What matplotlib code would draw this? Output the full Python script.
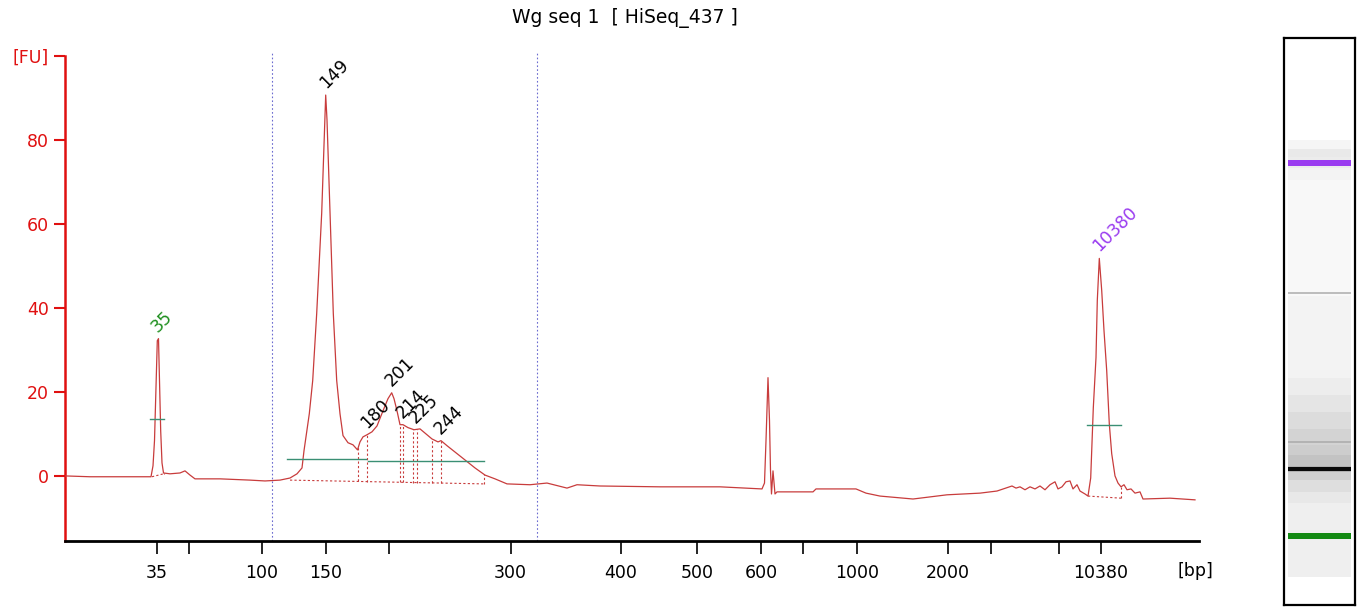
import numpy as np
import matplotlib
matplotlib.use("Agg")
import matplotlib.pyplot as plt

# electropherogram trace: migration time (s) vs fluorescence (FU)
TIME_S = [46.5, 49.0, 52.0, 54.0, 55.1, 55.3, 55.45, 55.6, 55.73, 55.85, 55.95, 56.07, 56.2, 56.35,
          57.0, 58.0, 58.5, 59.0, 59.5, 62.0, 65.0, 66.5, 68.0, 69.0, 69.7, 70.2, 70.4, 70.93, 71.27,
          71.67, 72.17, 72.45, 72.57, 72.7, 73.0, 73.33, 73.67, 74.0, 74.3, 74.8, 75.3, 75.75, 76.0,
          76.3, 76.7, 77.2, 77.7, 78.3, 78.8, 79.17, 79.4, 79.7, 80.0, 80.3, 80.8, 81.4, 82.0, 82.6,
          83.2, 83.8, 84.1, 84.7, 85.5, 86.5, 87.5, 88.5, 89.5, 90.7, 93.0, 94.7, 96.7, 97.7, 100.0,
          106.0, 112.0, 114.5,
          116.2, 116.45, 116.6, 116.8, 116.95, 117.05, 117.15, 117.3, 117.5, 117.7, 121.3, 121.6,
          125.6, 126.6, 128.0, 131.3, 134.7, 138.0,
          139.7, 141.2, 141.6, 142.0, 142.5, 143.0, 143.5, 144.0, 144.5, 145.0, 145.5, 145.8, 146.2,
          146.6, 147.0, 147.3, 147.7, 148.0, 148.5, 148.8, 149.07, 149.33, 149.6, 149.73, 149.93,
          150.17, 150.4, 150.67, 150.93, 151.17, 151.5, 151.8, 152.1, 152.4, 152.7, 153.1, 153.5,
          154.0, 154.3, 157.0, 159.5]
FU = [0.0, -0.2, -0.2, -0.2, -0.2, 2.4, 8.4, 21.5, 32.2, 32.7, 22.7, 10.7, 3.1, 0.7,
      0.5, 0.7, 1.2, 0.2, -0.7, -0.7, -1.0, -1.2, -1.0, -0.5, 0.5, 1.9, 6.0, 14.8, 22.7,
      38.7, 62.6, 82.4, 90.7, 84.8, 62.6, 38.7, 22.7, 14.8, 9.6, 7.9, 7.4, 6.2, 8.1,
      9.3, 9.8, 10.5, 11.9, 15.5, 18.4, 19.8, 18.4, 15.5, 12.2, 12.2, 11.5, 11.0, 11.2, 10.0,
      8.8, 8.1, 8.4, 7.2, 5.7, 3.8, 1.9, 0.2, -0.7, -1.9, -2.1, -1.7, -2.9, -2.1, -2.4,
      -2.6, -2.6, -2.9,
      -3.1, -1.7, 8.4, 23.4, 13.1, 1.2, -4.3, 1.2, -4.3, -3.8, -3.8, -3.1,
      -3.1, -4.1, -4.8, -5.5, -4.5, -4.1,
      -3.6, -2.4, -2.9, -2.6, -3.3, -2.6, -3.1, -2.4, -3.3, -2.1, -1.4, -3.1, -2.6,
      -1.4, -1.2, -3.1, -2.1, -3.6, -4.3, -4.8, -0.5, 16.2, 28.2, 41.8, 51.8,
      44.2, 34.6, 25.1, 12.4, 5.3, 0.0, -1.7, -2.6, -2.1, -3.3, -3.1, -4.1,
      -3.8, -5.5, -5.3, -5.7]

# called peaks
PEAK_BP = [35, 149, 180, 201, 214, 225, 244, 10380]
PEAK_T = [55.8, 72.57, 76.7, 79.17, 80.3, 81.6, 84.1, 149.93]
PEAK_FU = [32.7, 90.7, 9.8, 19.8, 12.2, 11.0, 8.4, 51.8]
PEAK_COLORS = ["#1f8f1f", "black", "black", "black", "black", "black", "black", "#9a3cf0"]

# ladder positions on the time axis
LADDER_BP = [35, 50, 100, 150, 200, 300, 400, 500, 600, 700, 1000, 2000, 3000, 7000, 10380]
LADDER_T = [55.7, 58.85, 66.2, 72.6, 78.9, 91.05, 102.07, 109.67, 116.1, 120.27, 125.67, 134.8,
            139.1, 145.9, 150.1]
LADDER_SHOWN = [35, 100, 150, 300, 400, 500, 600, 1000, 2000, 10380]

# region of interest, half-height bars, baselines, peak boundaries
REGION_T = [67.2, 93.7]
HALF_BARS = [(55.0, 56.4, 13.6), (68.67, 76.6, 4.0), (76.8, 88.4, 3.6), (148.67, 152.07, 12.2)]
BASELINES = [((55.2, 56.35), (-0.2, 0.5)), ((69.0, 88.4), (-1.0, -1.9)), ((148.8, 152.1), (-4.8, -5.3))]
BOUNDARY_T = [75.83, 76.67, 80.0, 80.27, 81.27, 81.67, 83.23, 84.1]

# gel lane (position 0 = top of lane box, 100 = bottom)
GEL_SHADES = [(18.0, 19.5, "#f5f5f5"), (19.5, 21.0, "#e9e9e9"), (21.0, 23.0, "#ececec"),
              (23.0, 25.0, "#f3f3f3"), (25.0, 45.5, "#f8f8f8"), (45.5, 60.0, "#f3f3f3"),
              (60.0, 63.0, "#ededed"), (63.0, 66.0, "#e5e5e5"), (66.0, 69.0, "#dcdcdc"),
              (69.0, 71.8, "#d3d3d3"), (71.8, 73.5, "#cdcdcd"), (73.5, 75.5, "#c3c3c3"),
              (75.5, 76.6, "#b0b0b0"), (76.6, 78.0, "#cfcfcf"), (78.0, 80.0, "#dedede"),
              (80.0, 82.0, "#e8e8e8"), (82.0, 95.1, "#efefef")]
GEL_BANDS = [(22.0, 1.1, "#9a3cf0"), (45.0, 0.35, "#bdbdbd"), (71.3, 0.4, "#b3b3b3"),
             (76.0, 0.7, "#0a0a0a"), (87.8, 1.1, "#138a13")]

W, H = 1361, 609
plt.rcParams["font.family"] = "DejaVu Sans"
fig = plt.figure(figsize=(W / 100, H / 100), dpi=100)
ax = fig.add_axes([65 / W, (H - 541) / H, (1199 - 65) / W, (541 - 56) / H])

trace_c = "#c83c3c"
ax.plot(TIME_S, FU, color=trace_c, lw=0.9, zorder=3)

for t in REGION_T:
    ax.axvline(t, ymax=1.01, color="#6b6bd0", lw=0.8, ls=(0, (1.5, 2)), clip_on=False, zorder=1)

for x0, x1, y in HALF_BARS:
    ax.plot([x0, x1], [y, y], color="#3a8f74", lw=1.0, zorder=4)

for (x0, x1), (y0, y1) in BASELINES:
    ax.plot([x0, x1], [y0, y1], color=trace_c, lw=0.8, ls=(0, (2, 2)), zorder=2)
    ax.plot([x1, x1], [y1, np.interp(x1, TIME_S, FU)], color=trace_c, lw=0.8, ls=(0, (2, 2)), zorder=2)

(bx0, bx1), (by0, by1) = BASELINES[1]
for t in BOUNDARY_T:
    ybase = np.interp(t, [bx0, bx1], [by0, by1])
    ax.plot([t, t], [ybase, np.interp(t, TIME_S, FU)], color=trace_c, lw=0.8,
            ls=(0, (2, 2)), zorder=2)

for bp, t, fu, c in zip(PEAK_BP, PEAK_T, PEAK_FU, PEAK_COLORS):
    ax.annotate(str(bp), (t, fu), xytext=(0, 6), textcoords="offset pixels", rotation=45,
                rotation_mode="anchor", ha="left", va="baseline", color=c, fontsize=12.5)

ax.set_xlim(46.5, 159.9)
ax.set_ylim(-15.5, 100)
ax.set_xticks(LADDER_T)
ax.set_xticklabels([str(b) if b in LADDER_SHOWN else "" for b in LADDER_BP])
ax.set_yticks([0, 20, 40, 60, 80, 100])
ax.set_yticklabels(["0", "20", "40", "60", "80", "[FU]"])

red = "#e01010"
for s in ("top", "right"):
    ax.spines[s].set_visible(False)
ax.spines["left"].set_color(red)
ax.spines["left"].set_linewidth(1.8)
ax.spines["bottom"].set_color("black")
ax.spines["bottom"].set_linewidth(2.0)
ax.tick_params(axis="y", colors=red, labelcolor=red, length=8, width=1.5, pad=3.5, labelsize=12.5)
ax.tick_params(axis="x", colors="black", length=9.5, width=1.2, pad=7, labelsize=12.5)

fig.text(1195 / W, 1 - 571 / H, "[bp]", ha="center", va="center", fontsize=12.5)
fig.text(625 / W, 1 - 18 / H, "Wg seq 1  [ HiSeq_437 ]", ha="center", va="center", fontsize=13.5)

# simulated gel lane
gax = fig.add_axes([1284 / W, (H - 605) / H, 71 / W, 567 / H])
gax.set_xlim(0, 1)
gax.set_ylim(100, 0)
gax.set_xticks([])
gax.set_yticks([])
for s in gax.spines.values():
    s.set_linewidth(1.6)
    s.set_color("black")
lx0, lx1 = 0.056, 0.944
for y0, y1, c in GEL_SHADES:
    gax.axhspan(y0, y1, xmin=lx0, xmax=lx1, color=c, lw=0)
for pos, th, c in GEL_BANDS:
    gax.axhspan(pos - th / 2, pos + th / 2, xmin=lx0, xmax=lx1, color=c, lw=0)

fig.savefig("out.png", dpi=100)
